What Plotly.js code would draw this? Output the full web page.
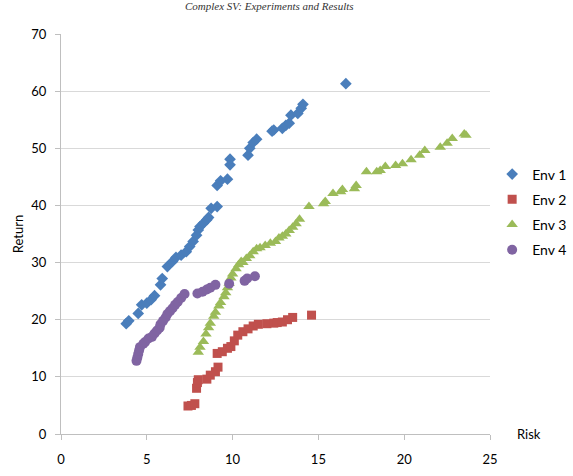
<!DOCTYPE html>
<html>
<head>
<meta charset="utf-8">
<script src="https://cdn.plot.ly/plotly-3.0.1.min.js"></script>
<style>html,body{margin:0;padding:0;background:#fff;}#chart{width:573px;height:476px;}</style>
</head>
<body>
<div id="chart"></div>
<script>
// ---- data ----
const seriesNames = ["Env 1", "Env 2", "Env 3", "Env 4"];

const env1Risk = [3.8, 3.95, 4.5, 4.7, 5.0, 5.25, 5.45, 5.8, 5.9, 6.2, 6.5, 6.7, 7.0, 7.3, 7.5, 7.7, 7.9, 8.0, 8.1, 8.3, 8.5, 8.6, 8.75, 9.1, 9.1, 9.3, 9.7, 9.85, 9.85, 10.9, 11.0, 11.2, 11.4, 12.3, 12.4, 12.9, 13.1, 13.3, 13.4, 13.8, 14.0, 14.1, 16.6];
const env1Return = [19.3, 19.8, 21.1, 22.6, 22.9, 23.5, 24.2, 26.1, 27.2, 29.3, 30.2, 30.9, 31.3, 31.9, 32.8, 33.7, 34.8, 35.7, 36.3, 36.9, 37.5, 37.9, 39.5, 39.8, 43.5, 44.3, 44.6, 47.1, 48.1, 48.8, 50.0, 51.0, 51.6, 53.0, 53.2, 53.5, 54.0, 54.4, 55.8, 56.1, 57.0, 57.7, 61.3];

const env2Risk = [7.4, 7.6, 7.8, 7.9, 7.95, 8.0, 8.5, 8.7, 9.0, 9.15, 9.1, 9.4, 9.7, 9.9, 10.1, 10.3, 10.6, 10.9, 11.2, 11.5, 12.0, 12.4, 12.6, 12.9, 13.2, 13.5, 14.6];
const env2Return = [4.9, 5.0, 5.3, 8.0, 9.0, 9.5, 9.6, 10.3, 10.9, 11.7, 14.1, 14.4, 15.0, 15.3, 16.3, 17.3, 17.9, 18.4, 18.9, 19.2, 19.3, 19.4, 19.5, 19.6, 20.0, 20.4, 20.8];

const env3Risk = [8.0, 8.1, 8.3, 8.45, 8.6, 8.7, 8.9, 9.0, 9.2, 9.3, 9.5, 9.6, 9.7, 9.8, 9.9, 10.0, 10.2, 10.35, 10.5, 10.6, 10.8, 11.0, 11.2, 11.4, 11.6, 11.9, 12.2, 12.5, 12.7, 12.9, 13.1, 13.3, 13.5, 13.7, 13.9, 14.45, 15.3, 15.4, 15.85, 16.3, 16.4, 17.1, 17.2, 17.8, 18.4, 18.6, 18.9, 19.5, 19.9, 20.4, 20.9, 21.2, 22.1, 22.5, 22.8, 23.5, 23.6];
const env3Return = [14.3, 15.2, 16.2, 17.5, 18.6, 19.4, 20.6, 21.3, 22.4, 23.0, 24.0, 24.7, 25.6, 26.4, 27.3, 28.0, 28.9, 29.6, 30.2, 30.0, 30.7, 31.2, 31.9, 32.4, 32.6, 33.0, 33.4, 33.7, 34.3, 34.6, 35.0, 35.6, 36.2, 36.8, 37.6, 39.8, 40.3, 40.7, 42.1, 42.4, 42.8, 42.9, 43.5, 45.9, 45.9, 46.1, 46.8, 47.0, 47.3, 48.0, 48.8, 49.6, 50.2, 50.9, 51.7, 52.5, 52.3];

const env4Risk = [4.4, 4.45, 4.5, 4.55, 4.6, 4.8, 4.9, 5.1, 5.3, 5.45, 5.6, 5.75, 5.8, 5.95, 6.1, 6.2, 6.35, 6.5, 6.65, 6.8, 7.0, 7.2, 7.95, 8.25, 8.5, 8.7, 9.0, 9.8, 10.7, 10.85, 11.3];
const env4Return = [12.8, 13.4, 14.0, 14.6, 15.2, 15.8, 16.1, 16.7, 17.0, 17.6, 18.1, 18.6, 19.2, 19.8, 20.4, 21.0, 21.5, 22.0, 22.6, 23.1, 23.8, 24.5, 24.6, 24.9, 25.3, 25.6, 26.1, 26.3, 26.8, 27.2, 27.6];

const xTicks = [0, 5, 10, 15, 20, 25];
const yTicks = [0, 10, 20, 30, 40, 50, 60, 70];

// ---- chart ----
const FONT = "Lato, 'Open Sans', sans-serif";
const colors = ["#4A7EBB", "#C0504D", "#9BBB59", "#8064A2"];
const symbols = ["diamond", "square", "triangle-up", "circle"];
const sizes = [9, 9, 10, 10];
const xs = [env1Risk, env2Risk, env3Risk, env4Risk];
const ys = [env1Return, env2Return, env3Return, env4Return];

const traces = seriesNames.map((n, i) => ({
  type: "scatter", mode: "markers", name: n,
  x: xs[i], y: ys[i], legendgroup: "g" + i,
  marker: {color: colors[i], symbol: symbols[i], size: sizes[i], line: {width: 0}}
}));

const layout = {
  width: 573, height: 476,
  margin: {l: 61, r: 83, t: 34, b: 42, autoexpand: false},
  paper_bgcolor: "#fff", plot_bgcolor: "#fff",
  font: {family: FONT, size: 13, color: "#000"},
  showlegend: true,
  legend: {x: 1.005, xanchor: "left", y: 0.555, yanchor: "middle",
           font: {family: FONT, size: 14, color: "#000"},
           tracegroupgap: 4, traceorder: "grouped", itemsizing: "trace"},
  xaxis: {range: [0, 25], tickvals: xTicks, ticktext: xTicks.map(String),
          showgrid: false, zeroline: false, showline: true, linecolor: "#BFBFBF", linewidth: 1,
          ticks: "outside", ticklen: 5, tickcolor: "#BFBFBF", ticklabelstandoff: 8,
          tickfont: {family: FONT, size: 13, color: "#000"}, fixedrange: true},
  yaxis: {range: [0, 70], tickvals: yTicks, ticktext: yTicks.map(String),
          showgrid: true, gridcolor: "#D9D9D9", gridwidth: 1, zeroline: false,
          showline: true, linecolor: "#BFBFBF", linewidth: 1,
          ticks: "outside", ticklen: 5, tickcolor: "#BFBFBF", ticklabelstandoff: 6,
          tickfont: {family: FONT, size: 13, color: "#000"},
          title: {text: "Return", font: {family: FONT, size: 13, color: "#000"}, standoff: 4},
          fixedrange: true},
  annotations: [
    {text: "Risk", xref: "paper", yref: "paper", x: 1.09, y: 0, xanchor: "center", yanchor: "middle",
     showarrow: false, font: {family: FONT, size: 13, color: "#000"}},
    {text: "Complex SV: Experiments and Results", xref: "paper", yref: "paper", x: 0.485, y: 1.07,
     xanchor: "center", yanchor: "middle", showarrow: false,
     font: {family: "'Liberation Serif', serif", size: 11, color: "#333", style: "italic"}}
  ]
};

Plotly.newPlot("chart", traces, layout, {displayModeBar: false, staticPlot: true});
</script>
</body>
</html>
